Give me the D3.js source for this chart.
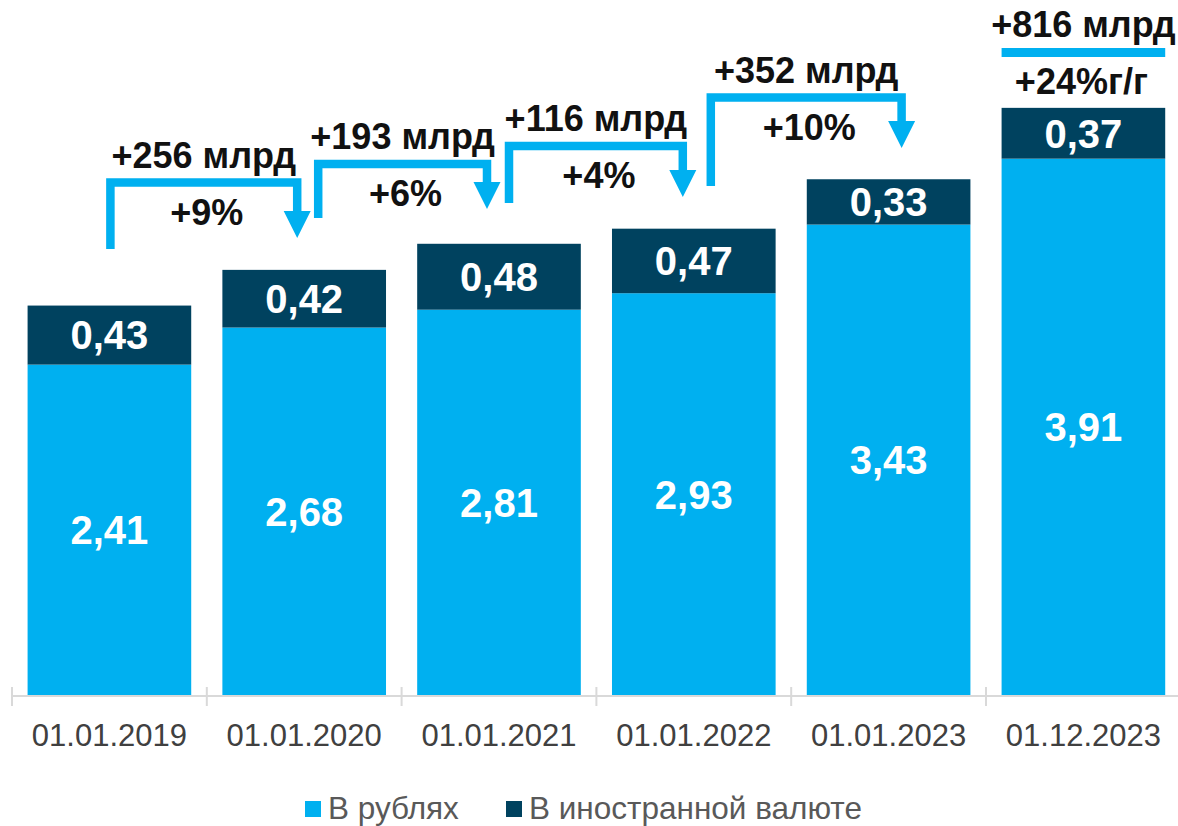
<!DOCTYPE html>
<html>
<head>
<meta charset="utf-8">
<script src="https://cdn.jsdelivr.net/npm/d3@7"></script>
<style>
  html, body { margin: 0; padding: 0; background: #fff; }
  svg { display: block; font-family: "Liberation Sans", Arial, sans-serif; }
</style>
</head>
<body>
<svg id="chart"></svg>
<script>
// Data
const categories = ["01.01.2019", "01.01.2020", "01.01.2021", "01.01.2022", "01.01.2023", "01.12.2023"];
const rubles = [2.41, 2.68, 2.81, 2.93, 3.43, 3.91];
const foreign = [0.43, 0.42, 0.48, 0.47, 0.33, 0.37];
const growthAbs = ["+256 млрд", "+193 млрд", "+116 млрд", "+352 млрд"];
const growthPct = ["+9%", "+6%", "+4%", "+10%"];
const lastAbs = "+816 млрд";
const lastPct = "+24%г/г";
const seriesNames = ["В рублях", "В иностранной валюте"];

const width = 1178;
const height = 826;
const colRub = "#00B0F0";
const colFx = "#00425F";

const svg = d3.select("#chart")
    .attr("width", width)
    .attr("height", height);

// Scales
const x = d3.scaleBand()
    .domain(categories)
    .range([12, 12 + 194.8 * categories.length])
    .padding(0);

const y = d3.scaleLinear()
    .domain([0, 5])
    .range([695.5, 695.5 - 5 * 137.3]);

const barW = x.bandwidth() * 0.84;
const barX = c => x(c) + (x.bandwidth() - barW) / 2;
const cx = c => x(c) + x.bandwidth() / 2;

const stackData = categories.map((c, i) => ({ cat: c, rub: rubles[i], fx: foreign[i] }));

// Bars - rubles
svg.append("g")
    .selectAll("rect")
    .data(stackData)
    .enter().append("rect")
    .attr("x", d => barX(d.cat))
    .attr("width", barW)
    .attr("y", d => y(d.rub))
    .attr("height", d => y(0) - y(d.rub))
    .attr("fill", colRub);

// Bars - foreign currency
svg.append("g")
    .selectAll("rect")
    .data(stackData)
    .enter().append("rect")
    .attr("x", d => barX(d.cat))
    .attr("width", barW)
    .attr("y", d => y(d.rub + d.fx))
    .attr("height", d => y(d.rub) - y(d.rub + d.fx))
    .attr("fill", colFx);

// Value labels
const fmt = v => v.toFixed(2).replace(".", ",");
const valLabels = svg.append("g")
    .attr("fill", "#fff")
    .attr("font-weight", "bold")
    .attr("font-size", 40)
    .attr("text-anchor", "middle");

valLabels.selectAll(".rub")
    .data(stackData)
    .enter().append("text")
    .attr("x", d => cx(d.cat))
    .attr("y", d => (y(0) + y(d.rub)) / 2)
    .attr("dy", "0.36em")
    .text(d => fmt(d.rub));

valLabels.selectAll(".fx")
    .data(stackData)
    .enter().append("text")
    .attr("x", d => cx(d.cat))
    .attr("y", d => (y(d.rub) + y(d.rub + d.fx)) / 2)
    .attr("dy", "0.36em")
    .text(d => fmt(d.fx));

// X axis
const axis = svg.append("g");
axis.append("line")
    .attr("x1", 12).attr("x2", width)
    .attr("y1", 696).attr("y2", 696)
    .attr("stroke", "#d9d9d9")
    .attr("stroke-width", 2);

axis.selectAll(".tick")
    .data(categories)
    .enter().append("line")
    .attr("x1", d => x(d)).attr("x2", d => x(d))
    .attr("y1", 687).attr("y2", 706)
    .attr("stroke", "#d9d9d9")
    .attr("stroke-width", 2);

axis.selectAll("text")
    .data(categories)
    .enter().append("text")
    .attr("x", d => cx(d))
    .attr("y", 746)
    .attr("text-anchor", "middle")
    .attr("font-size", 31)
    .attr("fill", "#404040")
    .text(d => d);

// Growth brackets (annotation layout, px)
const bracketTop = [182.5, 164, 146, 97.5];
const bracketLeftBottom = [249, 218, 203, 186];
const bracketTip = [238, 209, 197, 148];
const bracketDxL = [1, 14, 10, 17];
const bracketDxR = [-7, -12, -11, 13];

const ann = svg.append("g");
growthAbs.forEach((label, i) => {
    const xL = cx(categories[i]) + bracketDxL[i];
    const xR = cx(categories[i + 1]) + bracketDxR[i];
    const top = bracketTop[i];
    const tip = bracketTip[i];
    const headTop = tip - 27;

    ann.append("path")
        .attr("d", `M${xL},${bracketLeftBottom[i]}V${top}H${xR}V${headTop + 1}`)
        .attr("fill", "none")
        .attr("stroke", colRub)
        .attr("stroke-width", 8.5)
        .attr("stroke-linejoin", "miter");

    ann.append("path")
        .attr("d", `M${xR - 13.5},${headTop}L${xR + 13.5},${headTop}L${xR},${tip}Z`)
        .attr("fill", colRub);

    const mid = (xL + xR) / 2;
    ann.append("text")
        .attr("x", mid)
        .attr("y", top - 15)
        .attr("text-anchor", "middle")
        .attr("font-size", 36)
        .attr("font-weight", "bold")
        .attr("fill", "#111")
        .text(label);

    ann.append("text")
        .attr("x", mid + 3)
        .attr("y", top + 42)
        .attr("text-anchor", "middle")
        .attr("font-size", 36)
        .attr("font-weight", "bold")
        .attr("fill", "#111")
        .text(growthPct[i]);
});

// Year-over-year annotation on last bar
const last = categories[categories.length - 1];
ann.append("rect")
    .attr("x", barX(last))
    .attr("width", barW)
    .attr("y", 48)
    .attr("height", 9)
    .attr("fill", colRub);

ann.append("text")
    .attr("x", cx(last))
    .attr("y", 37)
    .attr("text-anchor", "middle")
    .attr("font-size", 36)
    .attr("font-weight", "bold")
    .attr("fill", "#111")
    .text(lastAbs);

ann.append("text")
    .attr("x", cx(last) - 2)
    .attr("y", 94)
    .attr("text-anchor", "middle")
    .attr("font-size", 36)
    .attr("font-weight", "bold")
    .attr("fill", "#111")
    .text(lastPct);

// Legend
const legend = svg.append("g");
const legendX = [305, 506];
const legendColors = [colRub, colFx];
seriesNames.forEach((name, i) => {
    legend.append("rect")
        .attr("x", legendX[i])
        .attr("y", 801)
        .attr("width", 16)
        .attr("height", 16)
        .attr("fill", legendColors[i]);
    legend.append("text")
        .attr("x", legendX[i] + 23)
        .attr("y", 819)
        .attr("font-size", 31.5)
        .attr("fill", "#595959")
        .text(name);
});
</script>
</body>
</html>
